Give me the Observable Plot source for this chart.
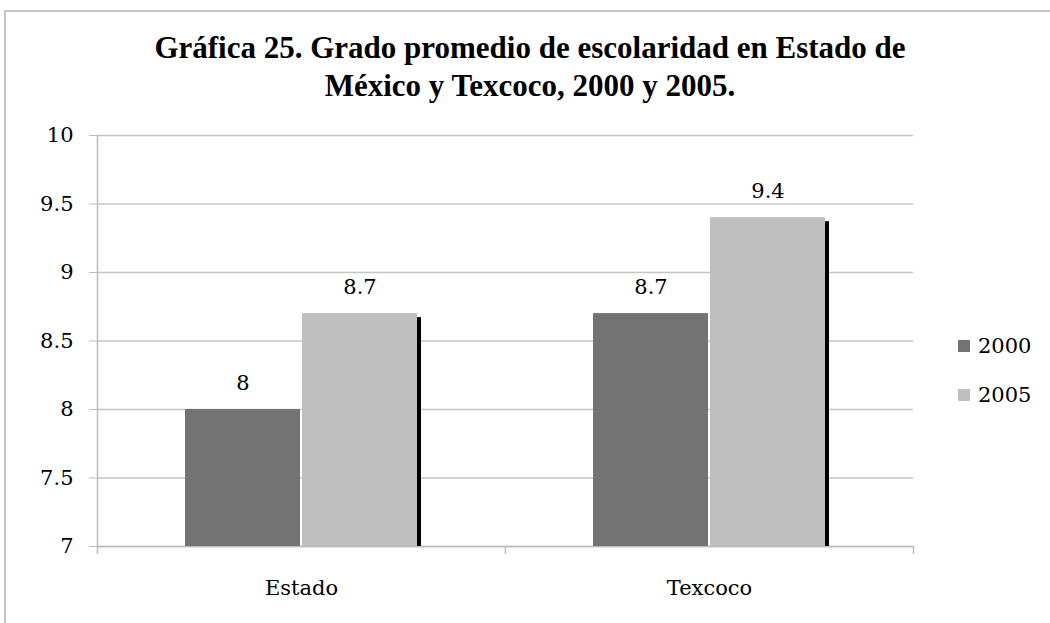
<!DOCTYPE html>
<html>
<head>
<meta charset="utf-8">
<script src="https://cdn.jsdelivr.net/npm/d3@7"></script>
<script src="https://cdn.jsdelivr.net/npm/@observablehq/plot@0.6"></script>
<style>
  html, body { margin: 0; padding: 0; background: #fff; }
  #wrap { position: relative; width: 1050px; height: 623px; overflow: hidden; font-family: "DejaVu Serif", serif; }
  #frame { position: absolute; left: 4px; top: 10px; width: 1100px; height: 700px; border: 2px solid #c4c4c4; box-sizing: border-box; }
  #title { position: absolute; left: 0; top: 29px; width: 1060px; text-align: center; font-family: "Liberation Serif", serif; font-weight: bold; font-size: 31px; line-height: 38px; color: #000; }
  #chart { position: absolute; left: 0; top: 0; }
  #legend { position: absolute; left: 958px; top: 321px; font-size: 21px; color: #000; }
  .item { display: flex; align-items: center; height: 49px; }
  .sw { width: 12px; height: 12px; margin-right: 8px; }
</style>
</head>
<body>
<div id="wrap">
  <div id="frame"></div>
  <div id="chart"></div>
  <div id="title">Gráfica 25. Grado promedio de escolaridad en Estado de<br>México y Texcoco, 2000 y 2005.</div>
  <div id="legend"></div>
</div>
<script>
const categories = ["Estado", "Texcoco"];
const years = ["2000", "2005"];
const values2000 = [8, 8.7];
const values2005 = [8.7, 9.4];
const yTicks = [7, 7.5, 8, 8.5, 9, 9.5, 10];
const colors = ["#737373", "#bfbfbf"];

const data = categories.flatMap((c, i) => [
  {cat: c, year: years[0], value: values2000[i]},
  {cat: c, year: years[1], value: values2005[i]}
]);
const yMin = yTicks[0];
const yMax = yTicks[yTicks.length - 1];

const W = 1050, H = 623, mL = 97, mR = 137, mT = 135, mB = 77;
const half = (W - mL - mR) / categories.length / 2;
const plotH = H - mT - mB;
const gray = "#bcbcbc";

const chart = Plot.plot({
  width: W,
  height: H,
  marginLeft: mL,
  marginRight: mR,
  marginTop: mT,
  marginBottom: mB,
  style: {fontFamily: "DejaVu Serif, serif", color: "#000", background: "transparent"},
  fx: {domain: categories, padding: 0, axis: null},
  x: {domain: years, axis: null, paddingInner: 0.02, paddingOuter: 0.74},
  y: {domain: [yMin, yMax], axis: null},
  color: {domain: years, range: colors},
  marks: [
    Plot.gridY(yTicks, {stroke: "#c6c6c6", strokeOpacity: 1, strokeWidth: 1.5}),
    Plot.ruleY([yMin], {stroke: gray, strokeWidth: 1.5}),
    Plot.barY(data.filter(d => d.year === years[1]), {fx: "cat", x: "year", y1: yMin, y2: "value", fill: "#000", dx: 4, insetTop: 4}),
    Plot.barY(data, {fx: "cat", x: "year", y1: yMin, y2: "value", fill: "year"}),
    Plot.text(data, {fx: "cat", x: "year", y: "value", text: d => String(d.value), dy: -26, fontSize: 21, fill: "#000"}),
    Plot.axisY({ticks: yTicks, tickSize: 8, tickPadding: 16, stroke: gray, fontSize: 21, label: null, tickFormat: d => String(d)}),
    Plot.axisFx({anchor: "bottom", tickSize: 0, tickPadding: 34, fontSize: 21, label: null}),
    Plot.axisFx({anchor: "bottom", tickSize: 8, dx: -half, stroke: gray, strokeWidth: 1.5, tickFormat: () => "", label: null}),
    Plot.axisFx({anchor: "bottom", ticks: [categories[categories.length - 1]], tickSize: 8, dx: half, stroke: gray, strokeWidth: 1.5, tickFormat: () => "", label: null}),
    Plot.axisFx({anchor: "bottom", ticks: [categories[0]], tickSize: -plotH, dx: -half, stroke: gray, strokeWidth: 1.5, tickFormat: () => "", label: null})
  ]
});
document.getElementById("chart").appendChild(chart);

const legend = document.getElementById("legend");
years.forEach((y, i) => {
  const item = document.createElement("div");
  item.className = "item";
  const sw = document.createElement("div");
  sw.className = "sw";
  sw.style.background = colors[i];
  const t = document.createElement("span");
  t.textContent = y;
  item.appendChild(sw);
  item.appendChild(t);
  legend.appendChild(item);
});
</script>
</body>
</html>
